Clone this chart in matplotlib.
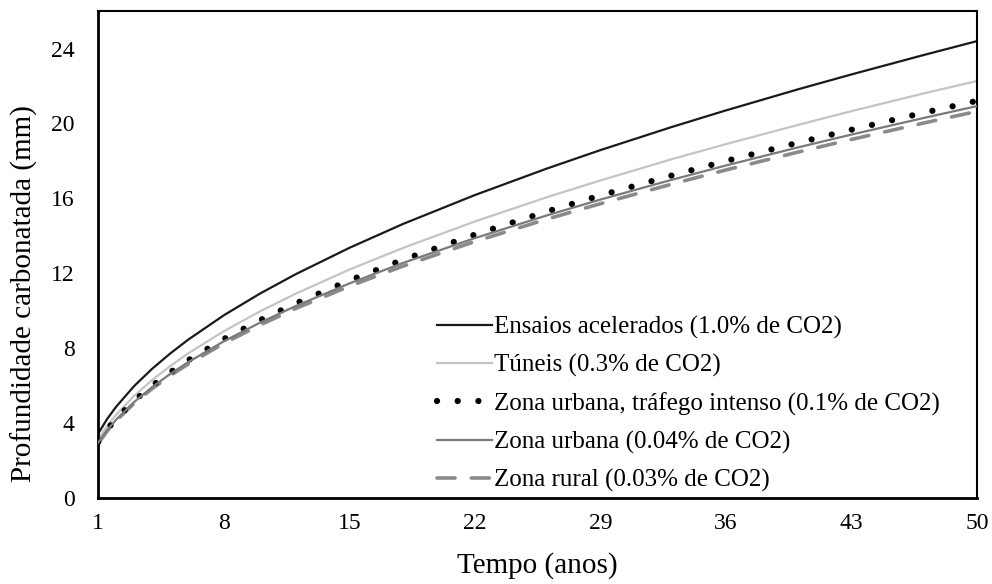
import matplotlib
matplotlib.use("Agg")
import matplotlib.pyplot as plt

# tempo (anos) e profundidade carbonatada (mm)
tempo = [1, 1.5, 2, 3, 4, 5, 6, 8, 10, 12, 15, 18, 22, 26, 29, 33, 36, 40, 43, 47, 50]
ensaios = [3.45, 4.23, 4.88, 5.98, 6.90, 7.71, 8.45, 9.76, 10.91, 11.95, 13.36, 14.64, 16.18,
           17.59, 18.58, 19.82, 20.70, 21.82, 22.62, 23.65, 24.40]
tuneis = [3.15, 3.86, 4.45, 5.46, 6.30, 7.04, 7.72, 8.91, 9.96, 10.91, 12.20, 13.36, 14.77,
          16.06, 16.96, 18.10, 18.90, 19.92, 20.66, 21.60, 22.27]
urbana_intenso = [3.00, 3.67, 4.24, 5.20, 6.00, 6.71, 7.35, 8.49, 9.49, 10.39, 11.62, 12.73, 14.07,
                  15.30, 16.16, 17.23, 18.00, 18.97, 19.67, 20.57, 21.21]
urbana = [2.96, 3.63, 4.19, 5.13, 5.92, 6.62, 7.25, 8.37, 9.36, 10.25, 11.46, 12.56, 13.88,
          15.09, 15.94, 17.00, 17.76, 18.72, 19.41, 20.29, 20.93]
rural = [2.92, 3.58, 4.13, 5.06, 5.84, 6.53, 7.15, 8.26, 9.23, 10.12, 11.31, 12.39, 13.70,
         14.89, 15.72, 16.77, 17.52, 18.47, 19.15, 20.02, 20.65]

labels = ["Ensaios acelerados (1.0% de CO2)",
          "Túneis (0.3% de CO2)",
          "Zona urbana, tráfego intenso (0.1% de CO2)",
          "Zona urbana (0.04% de CO2)",
          "Zona rural (0.03% de CO2)"]
x_ticks = [1, 8, 15, 22, 29, 36, 43, 50]
y_ticks = [0, 4, 8, 12, 16, 20, 24]

plt.rcParams['font.family'] = ['Liberation Serif', 'DejaVu Serif']

fig = plt.figure(figsize=(9.92, 5.84), dpi=100)
ax = fig.add_axes([0.099, 0.147, 0.886, 0.834])

ax.plot(tempo, ensaios, color='#1a1a1a', lw=1.6, label=labels[0])
ax.plot(tempo, tuneis, color='#c4c4c4', lw=1.6, label=labels[1])
ax.plot(tempo, urbana_intenso, color='black', lw=4.5, linestyle=(0, (0.01, 3.3)),
        dash_capstyle='round', label=labels[2], zorder=3)
ax.plot(tempo, urbana, color='#7a7a7a', lw=1.6, label=labels[3], zorder=4)
ax.plot(tempo, rural, color='#8a8a8a', lw=2.6, linestyle=(0, (5, 4.5)),
        dash_capstyle='round', label=labels[4])

ax.set_xlim(1, 50)
ax.set_ylim(0, 26)
ax.set_xticks(x_ticks)
ax.set_yticks(y_ticks)
ax.tick_params(axis='both', length=0, labelsize=17)
ax.tick_params(axis='y', pad=17)
ax.tick_params(axis='x', pad=11)
for side in ['left', 'bottom']:
    ax.spines[side].set_linewidth(2.0)
for side in ['top', 'right']:
    ax.spines[side].set_linewidth(1.5)

ax.set_xlabel("Tempo (anos)", fontsize=21, labelpad=13)
ax.set_ylabel("Profundidade carbonatada (mm)", fontsize=21)
ax.yaxis.set_label_coords(-0.068, 0.42)

ax.legend(loc='upper left', bbox_to_anchor=(0.385, 0.374), frameon=False, fontsize=18,
          handlelength=2.2, handletextpad=0.1, labelspacing=0.6,
          borderpad=0, borderaxespad=0)

fig.savefig("out.png", dpi=100)
